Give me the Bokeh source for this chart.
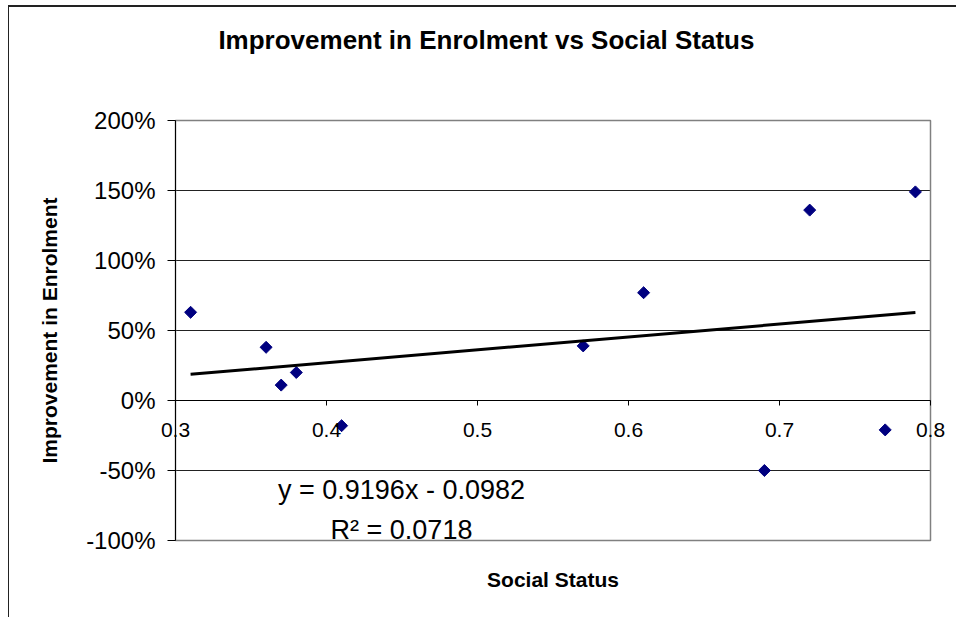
import numpy as np
from bokeh.plotting import figure
from bokeh.models import Range1d, FixedTicker, NumeralTickFormatter, Label
from bokeh.embed import file_html
from bokeh.resources import INLINE

# ---- data ----
social_status = [0.31, 0.36, 0.37, 0.38, 0.41, 0.57, 0.61, 0.69, 0.72, 0.77, 0.79]
enrolment_improvement = [0.63, 0.38, 0.11, 0.20, -0.18, 0.39, 0.77, -0.50, 1.36, -0.21, 1.49]
trend_slope = 0.9196
trend_intercept = -0.0982
r_squared = 0.0718
x_ticks = [0.3, 0.4, 0.5, 0.6, 0.7, 0.8]
y_ticks = [-1.0, -0.5, 0.0, 0.5, 1.0, 1.5, 2.0]
x_min, x_max = 0.3, 0.8
y_min, y_max = -1.0, 2.0
title_text = "Improvement in Enrolment  vs Social Status"
x_title = "Social Status"
y_title = "Improvement in Enrolment"

trend_x = [min(social_status), max(social_status)]
trend_y = [trend_slope * v + trend_intercept for v in trend_x]

FONT = "Liberation Sans"

# ---- layout (page pixels) ----
OX, OY = 9, 7                 # figure content origin (margin + border)
W, H = 948, 612
PA_L, PA_R, PA_T, PA_B = 175, 930, 120, 540   # plot area box
FR_L, FR_R, FR_T, FR_B = 12, 952, 10, 605     # drawing frame
BASE_FIX = 9                  # label baseline correction

kx = (PA_R - PA_L) / (x_max - x_min)
ky = (PA_B - PA_T) / (y_max - y_min)
def px2x(px):
    return x_min + (px - PA_L) / kx
def py2y(py):
    return y_max - (py - PA_T) / ky

p = figure(width=W, height=H, output_backend="svg", toolbar_location=None,
           x_range=Range1d(px2x(FR_L), px2x(FR_R)),
           y_range=Range1d(py2y(FR_B), py2y(FR_T)),
           min_border_left=FR_L - OX, min_border_right=OX + W - FR_R,
           min_border_top=FR_T - OY, min_border_bottom=OY + H - FR_B,
           background_fill_color="white", border_fill_color="white")
p.styles = {"margin-left": "8px", "margin-top": "5px",
            "border-left": "1px solid #222222", "border-top": "2px solid #222222"}
p.outline_line_color = None

# x axis crossing at y = 0
xa = p.xaxis[0]
xa.fixed_location = 0
xa.bounds = (x_min, x_max)
xa.ticker = FixedTicker(ticks=x_ticks)
xa.formatter = NumeralTickFormatter(format="0.0")
xa.major_label_text_font = FONT
xa.major_label_text_font_size = "21px"
xa.major_label_text_color = "black"
xa.major_tick_out = 5
xa.major_tick_in = 0
xa.major_label_standoff = 17
xa.minor_tick_line_color = None
xa.axis_line_color = "black"
xa.major_tick_line_color = "black"
xa.axis_label = x_title
xa.axis_label_text_font = FONT
xa.axis_label_text_font_style = "bold"
xa.axis_label_text_font_size = "21px"
xa.axis_label_text_color = "black"
xa.axis_label_standoff = 128

# y axis at x = 0.3
ya = p.yaxis[0]
ya.fixed_location = x_min
ya.bounds = (y_min, y_max)
ya.ticker = FixedTicker(ticks=y_ticks)
ya.formatter = NumeralTickFormatter(format="0%")
ya.major_label_text_font = FONT
ya.major_label_text_font_size = "24px"
ya.major_label_text_color = "black"
ya.major_tick_out = 8
ya.major_tick_in = 0
ya.major_label_standoff = 12
ya.minor_tick_line_color = None
ya.axis_line_color = "black"
ya.major_tick_line_color = "black"
ya.axis_label = y_title
ya.axis_label_text_font = FONT
ya.axis_label_text_font_style = "bold"
ya.axis_label_text_font_size = "21px"
ya.axis_label_text_color = "black"
ya.axis_label_standoff = 22

# horizontal gridlines limited to the plot area
p.xgrid.visible = False
p.ygrid.visible = False
p.segment(x0=[x_min] * len(y_ticks), x1=[x_max] * len(y_ticks), y0=y_ticks, y1=y_ticks,
          line_color="#222222", line_width=1)

# plot area border
p.quad(left=[x_min], right=[x_max], bottom=[y_min], top=[y_max],
       fill_color=None, line_color="#808080", line_width=1.5)

# data points (Excel-style diamonds)
p.scatter(social_status, enrolment_improvement, marker="square", angle=np.pi / 4,
          size=8.5, fill_color="#000080", line_color="#000080")

# linear trendline
p.line(trend_x, trend_y, line_color="black", line_width=3)

# chart title
p.add_layout(Label(x=px2x(489.5), y=py2y(48 - BASE_FIX), text=title_text,
                   text_align="center", text_baseline="alphabetic",
                   text_font=FONT, text_font_size="26px", text_font_style="bold",
                   text_color="black"))

# trendline equation
p.add_layout(Label(x=px2x(401), y=py2y(498 - BASE_FIX),
                   text=f"y = {trend_slope}x - {abs(trend_intercept)}",
                   text_align="center", text_baseline="alphabetic",
                   text_font=FONT, text_font_size="27px", text_color="black"))
p.add_layout(Label(x=px2x(401), y=py2y(538 - BASE_FIX), text=f"R\u00b2 = {r_squared}",
                   text_align="center", text_baseline="alphabetic",
                   text_font=FONT, text_font_size="27px", text_color="black"))

open("out.html", "w").write(file_html(p, INLINE))
